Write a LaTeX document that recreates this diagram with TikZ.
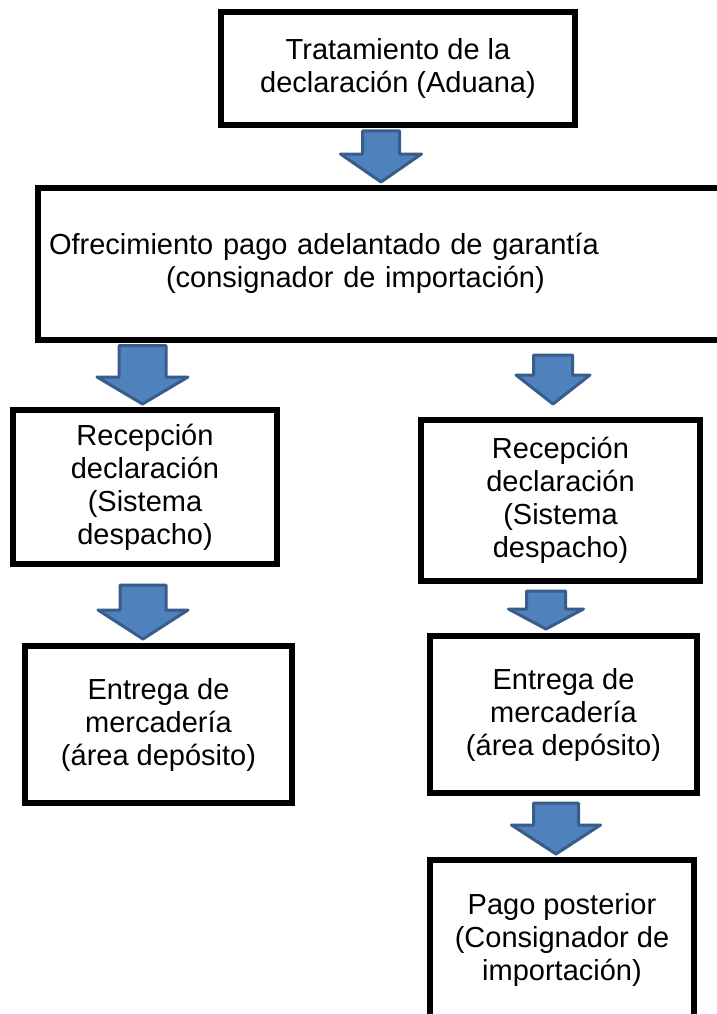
\documentclass[tikz,border=0pt]{standalone}
\usepackage{fontspec}
\setmainfont{Liberation Sans}
\usetikzlibrary{calc}

\definecolor{arrowfill}{HTML}{4F81BD}
\definecolor{arrowline}{HTML}{385D8A}

% block arrow: start, tip, shaft half width, head half width, head length
\newcommand{\fatarrow}[5]{%
  \draw[fat] let \p1=(#1), \p2=(#2) in
    (\x2-#3pt,\y1) -- (\x2+#3pt,\y1) -- (\x2+#3pt,\y2+#5pt) -- (\x2+#4pt,\y2+#5pt)
    -- (\x2,\y2) -- (\x2-#4pt,\y2+#5pt) -- (\x2-#3pt,\y2+#5pt) -- cycle;}

\begin{document}
\begin{tikzpicture}[
    x=1pt,y=1pt,
    every node/.style={font=\fontsize{29}{33}\selectfont},
    box/.style={draw,line width=6pt,fill=white,inner sep=0pt,align=center},
    fat/.style={fill=arrowfill,draw=arrowline,line width=3pt,line join=round}
]
\useasboundingbox (0,0) rectangle (717,-1014);

% Customs
\node[box,minimum width=354pt,minimum height=113pt] (trat) at (398,-68.5)
  {Tratamiento de la\\declaración (Aduana)};

% Offer of advance payment
\node[box,minimum width=722pt,minimum height=151.5pt,text width=700pt,inner xsep=11pt,align=left] (ofre) at (399,-263.75)
  {Ofrecimiento pago adelantado de garantía\\\hspace*{117pt}(consignador de importación)};

% Left branch
\node[box,minimum width=264pt,minimum height=154pt] (recL) at (145,-487)
  {Recepción\\declaración\\(Sistema\\despacho)};
\node[box,minimum width=267pt,minimum height=157pt] (entL) at (158.5,-724.5)
  {Entrega de\\mercadería\\(área depósito)};

% Right branch
\node[box,minimum width=279pt,minimum height=161pt] (recR) at (560.5,-500.5)
  {Recepción\\declaración\\(Sistema\\despacho)};
\node[box,minimum width=267pt,minimum height=157pt] (entR) at (563.5,-714.5)
  {Entrega de\\mercadería\\(área depósito)};
\node[box,minimum width=264pt,minimum height=160pt] (pago) at (562,-940)
  {Pago posterior\\(Consignador de\\importación)};

% Block arrows
\fatarrow{[yshift=-3pt]trat.south}{[xshift=-18pt,yshift=3pt]ofre.north}{18.5}{40.5}{28}
\fatarrow{[yshift=-3pt]ofre.south}{[xshift=-2.5pt,yshift=3pt]recL.north}{23.5}{45.5}{27}
\fatarrow{[yshift=-18pt]recL.south}{[xshift=-15.5pt,yshift=4pt]entL.north}{23}{45}{29}
\fatarrow{[yshift=-12.5pt]ofre.south}{[xshift=-7.5pt,yshift=13pt]recR.north}{19.5}{37}{29}
\fatarrow{[yshift=-7pt]recR.south}{[xshift=-17.5pt,yshift=4pt]entR.north}{19.5}{37.5}{20}
\fatarrow{[yshift=-7pt]entR.south}{[xshift=-6pt,yshift=3pt]pago.north}{22.5}{44.5}{29}

\end{tikzpicture}
\end{document}
